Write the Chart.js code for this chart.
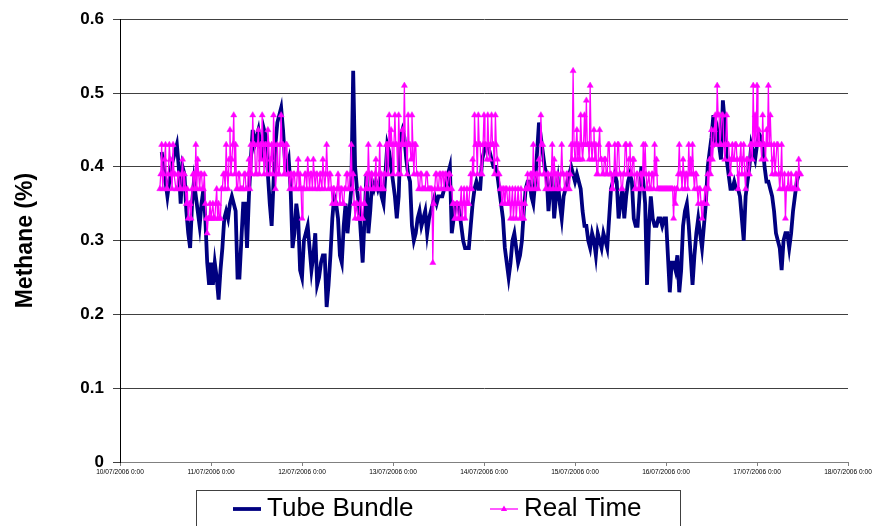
<!DOCTYPE html>
<html>
<head>
<meta charset="utf-8">
<title>Methane</title>
<script src="https://cdn.jsdelivr.net/npm/chart.js@4.4.0/dist/chart.umd.min.js"></script>
<style>
  html, body { margin: 0; padding: 0; background: #fff; }
  canvas { display: block; }
</style>
</head>
<body>
<canvas id="methaneChart" width="872" height="526"></canvas>
<script>
"use strict";
// x axis runs in hours from 10/07/2006 0:00
const dateLabels = [
    '10/07/2006 0:00', '11/07/2006 0:00', '12/07/2006 0:00', '13/07/2006 0:00', '14/07/2006 0:00',
    '15/07/2006 0:00', '16/07/2006 0:00', '17/07/2006 0:00', '18/07/2006 0:00'
];
const seriesNames = ['Tube Bundle', 'Real Time'];

// tube bundle: half-hourly readings starting 10/07 11:00, one row per 4 hours
const tubeStartHour = 11;
const tubeStepHours = 0.5;
const tubeBundle = [
    0.42, 0.40, 0.38, 0.36, 0.38, 0.40, 0.41, 0.42,
    0.43, 0.40, 0.35, 0.40, 0.39, 0.34, 0.31, 0.29,
    0.35, 0.38, 0.36, 0.34, 0.32, 0.35, 0.37, 0.33,
    0.27, 0.24, 0.27, 0.24, 0.27, 0.25, 0.22, 0.26,
    0.29, 0.33, 0.34, 0.33, 0.35, 0.36, 0.35, 0.34,
    0.25, 0.25, 0.30, 0.35, 0.35, 0.29, 0.36, 0.41,
    0.45, 0.43, 0.44, 0.45, 0.43, 0.41, 0.45, 0.44,
    0.39, 0.35, 0.32, 0.38, 0.43, 0.46, 0.47, 0.48,
    0.45, 0.41, 0.40, 0.41, 0.37, 0.29, 0.31, 0.35,
    0.33, 0.26, 0.25, 0.30, 0.31, 0.32, 0.29, 0.26,
    0.28, 0.31, 0.24, 0.25, 0.27, 0.28, 0.28, 0.21,
    0.24, 0.28, 0.33, 0.36, 0.35, 0.33, 0.28, 0.27,
    0.32, 0.35, 0.31, 0.34, 0.37, 0.53, 0.40, 0.37,
    0.35, 0.31, 0.27, 0.33, 0.39, 0.31, 0.34, 0.38,
    0.37, 0.38, 0.37, 0.38, 0.36, 0.35, 0.39, 0.43,
    0.42, 0.40, 0.38, 0.36, 0.33, 0.36, 0.44, 0.45,
    0.44, 0.41, 0.39, 0.38, 0.32, 0.30, 0.31, 0.33,
    0.34, 0.32, 0.33, 0.34, 0.31, 0.33, 0.34, 0.35,
    0.36, 0.35, 0.36, 0.36, 0.36, 0.37, 0.37, 0.39,
    0.40, 0.31, 0.33, 0.35, 0.35, 0.34, 0.32, 0.30,
    0.29, 0.29, 0.29, 0.32, 0.35, 0.37, 0.38, 0.37,
    0.37, 0.41, 0.42, 0.43, 0.43, 0.42, 0.41, 0.40,
    0.40, 0.39, 0.37, 0.35, 0.33, 0.29, 0.27, 0.25,
    0.27, 0.30, 0.31, 0.29, 0.27, 0.28, 0.30, 0.34,
    0.37, 0.38, 0.38, 0.36, 0.35, 0.38, 0.42, 0.46,
    0.44, 0.42, 0.40, 0.39, 0.34, 0.37, 0.39, 0.33,
    0.36, 0.38, 0.35, 0.33, 0.36, 0.37, 0.38, 0.39,
    0.40, 0.39, 0.38, 0.39, 0.38, 0.37, 0.34, 0.32,
    0.32, 0.30, 0.29, 0.31, 0.30, 0.28, 0.31, 0.30,
    0.29, 0.31, 0.30, 0.29, 0.33, 0.37, 0.38, 0.39,
    0.38, 0.33, 0.35, 0.37, 0.33, 0.36, 0.38, 0.39,
    0.38, 0.33, 0.32, 0.32, 0.36, 0.40, 0.38, 0.35,
    0.24, 0.32, 0.36, 0.33, 0.32, 0.32, 0.33, 0.33,
    0.32, 0.33, 0.33, 0.28, 0.23, 0.27, 0.27, 0.26,
    0.28, 0.23, 0.26, 0.32, 0.34, 0.35, 0.32, 0.28,
    0.24, 0.28, 0.31, 0.33, 0.31, 0.29, 0.32, 0.35,
    0.40, 0.42, 0.44, 0.47, 0.44, 0.45, 0.43, 0.41,
    0.49, 0.46, 0.41, 0.39, 0.37, 0.37, 0.38, 0.37,
    0.37, 0.36, 0.33, 0.30, 0.36, 0.38, 0.40, 0.43,
    0.42, 0.41, 0.43, 0.445, 0.44, 0.43, 0.40, 0.38,
    0.38, 0.37, 0.36, 0.34, 0.31, 0.30, 0.29, 0.26,
    0.30, 0.31, 0.31, 0.29, 0.31, 0.34, 0.36, 0.38,
    0.39
];

// real time monitor: 15-minute readings starting 10/07 10:30, one row per 4 hours
const realStartHour = 10.5;
const realStepHours = 0.25;
const realTime = [
    0.37, 0.39, 0.43, 0.37, 0.39, 0.41, 0.43, 0.37, 0.37, 0.39, 0.43, 0.41, 0.39, 0.37, 0.43, 0.39,
    0.39, 0.37, 0.37, 0.39, 0.39, 0.37, 0.37, 0.39, 0.41, 0.37, 0.39, 0.37, 0.35, 0.37, 0.33, 0.35,
    0.35, 0.33, 0.37, 0.39, 0.39, 0.37, 0.43, 0.37, 0.41, 0.39, 0.37, 0.39, 0.39, 0.37, 0.37, 0.39,
    0.35, 0.33, 0.31, 0.33, 0.33, 0.35, 0.33, 0.33, 0.35, 0.33, 0.33, 0.35, 0.37, 0.33, 0.35, 0.33,
    0.33, 0.37, 0.37, 0.39, 0.39, 0.37, 0.43, 0.39, 0.37, 0.41, 0.45, 0.39, 0.41, 0.43, 0.47, 0.39,
    0.43, 0.37, 0.37, 0.39, 0.39, 0.37, 0.37, 0.37, 0.37, 0.39, 0.39, 0.37, 0.37, 0.39, 0.41, 0.37,
    0.43, 0.39, 0.47, 0.43, 0.43, 0.39, 0.39, 0.43, 0.45, 0.39, 0.43, 0.41, 0.47, 0.43, 0.39, 0.43,
    0.43, 0.39, 0.45, 0.43, 0.39, 0.41, 0.43, 0.39, 0.47, 0.43, 0.37, 0.39, 0.43, 0.39, 0.39, 0.43,
    0.47, 0.43, 0.43, 0.39, 0.39, 0.43, 0.43, 0.39, 0.39, 0.37, 0.39, 0.39, 0.37, 0.39, 0.39, 0.37,
    0.37, 0.39, 0.41, 0.37, 0.39, 0.37, 0.33, 0.37, 0.37, 0.39, 0.39, 0.37, 0.41, 0.39, 0.37, 0.39,
    0.39, 0.37, 0.41, 0.39, 0.37, 0.39, 0.39, 0.37, 0.37, 0.39, 0.39, 0.37, 0.41, 0.39, 0.37, 0.39,
    0.43, 0.39, 0.37, 0.39, 0.39, 0.37, 0.35, 0.37, 0.37, 0.35, 0.35, 0.37, 0.39, 0.37, 0.35, 0.37,
    0.37, 0.35, 0.35, 0.37, 0.37, 0.39, 0.39, 0.37, 0.37, 0.39, 0.43, 0.37, 0.39, 0.35, 0.33, 0.35,
    0.35, 0.33, 0.33, 0.35, 0.37, 0.33, 0.33, 0.35, 0.35, 0.37, 0.39, 0.37, 0.43, 0.39, 0.37, 0.39,
    0.39, 0.37, 0.37, 0.39, 0.41, 0.37, 0.37, 0.39, 0.43, 0.37, 0.39, 0.37, 0.37, 0.39, 0.39, 0.43,
    0.43, 0.39, 0.47, 0.43, 0.45, 0.43, 0.39, 0.43, 0.47, 0.43, 0.43, 0.39, 0.47, 0.43, 0.39, 0.43,
    0.45, 0.43, 0.51, 0.43, 0.43, 0.39, 0.47, 0.43, 0.43, 0.41, 0.47, 0.43, 0.39, 0.43, 0.43, 0.39,
    0.39, 0.37, 0.37, 0.39, 0.39, 0.37, 0.37, 0.37, 0.37, 0.39, 0.39, 0.37, 0.37, 0.37, 0.37, 0.37,
    0.27, 0.35, 0.37, 0.39, 0.39, 0.37, 0.37, 0.39, 0.39, 0.37, 0.39, 0.39, 0.37, 0.39, 0.39, 0.37,
    0.37, 0.39, 0.39, 0.37, 0.37, 0.35, 0.35, 0.33, 0.33, 0.35, 0.35, 0.33, 0.33, 0.35, 0.37, 0.33,
    0.35, 0.37, 0.33, 0.35, 0.37, 0.35, 0.35, 0.37, 0.39, 0.37, 0.41, 0.39, 0.47, 0.43, 0.43, 0.39,
    0.47, 0.43, 0.43, 0.39, 0.39, 0.43, 0.47, 0.43, 0.43, 0.41, 0.47, 0.43, 0.41, 0.43, 0.47, 0.43,
    0.43, 0.39, 0.47, 0.43, 0.41, 0.39, 0.39, 0.37, 0.37, 0.35, 0.37, 0.37, 0.35, 0.37, 0.37, 0.35,
    0.35, 0.37, 0.33, 0.35, 0.37, 0.33, 0.35, 0.37, 0.33, 0.35, 0.37, 0.35, 0.33, 0.37, 0.35, 0.33,
    0.33, 0.35, 0.37, 0.37, 0.39, 0.37, 0.37, 0.39, 0.39, 0.37, 0.43, 0.39, 0.37, 0.39, 0.39, 0.37,
    0.41, 0.39, 0.47, 0.43, 0.43, 0.39, 0.39, 0.37, 0.37, 0.39, 0.39, 0.37, 0.37, 0.39, 0.43, 0.37,
    0.41, 0.39, 0.37, 0.39, 0.39, 0.37, 0.37, 0.39, 0.43, 0.39, 0.39, 0.37, 0.37, 0.39, 0.39, 0.37,
    0.37, 0.39, 0.43, 0.41, 0.53, 0.43, 0.41, 0.43, 0.45, 0.41, 0.43, 0.41, 0.47, 0.43, 0.41, 0.43,
    0.47, 0.43, 0.49, 0.43, 0.43, 0.41, 0.51, 0.43, 0.41, 0.43, 0.45, 0.41, 0.43, 0.39, 0.39, 0.43,
    0.45, 0.41, 0.41, 0.39, 0.39, 0.41, 0.41, 0.39, 0.39, 0.43, 0.43, 0.39, 0.39, 0.37, 0.37, 0.39,
    0.43, 0.39, 0.39, 0.43, 0.43, 0.39, 0.39, 0.37, 0.37, 0.39, 0.39, 0.43, 0.43, 0.39, 0.39, 0.41,
    0.43, 0.39, 0.39, 0.41, 0.41, 0.37, 0.37, 0.39, 0.39, 0.37, 0.37, 0.39, 0.39, 0.37, 0.43, 0.39,
    0.43, 0.39, 0.37, 0.37, 0.39, 0.37, 0.37, 0.39, 0.39, 0.37, 0.43, 0.39, 0.41, 0.37, 0.37, 0.37,
    0.37, 0.37, 0.37, 0.37, 0.37, 0.37, 0.37, 0.37, 0.37, 0.37, 0.37, 0.37, 0.37, 0.37, 0.33, 0.37,
    0.35, 0.37, 0.37, 0.39, 0.43, 0.39, 0.39, 0.37, 0.41, 0.39, 0.37, 0.39, 0.39, 0.37, 0.43, 0.39,
    0.41, 0.39, 0.43, 0.39, 0.37, 0.39, 0.39, 0.37, 0.35, 0.37, 0.37, 0.35, 0.33, 0.35, 0.35, 0.37,
    0.37, 0.35, 0.39, 0.37, 0.41, 0.39, 0.45, 0.41, 0.43, 0.45, 0.47, 0.43, 0.51, 0.47, 0.47, 0.43,
    0.43, 0.47, 0.47, 0.43, 0.41, 0.43, 0.47, 0.43, 0.43, 0.41, 0.39, 0.41, 0.43, 0.41, 0.41, 0.43,
    0.43, 0.41, 0.37, 0.39, 0.41, 0.43, 0.39, 0.41, 0.43, 0.39, 0.37, 0.41, 0.41, 0.39, 0.39, 0.43,
    0.43, 0.41, 0.51, 0.43, 0.47, 0.43, 0.51, 0.43, 0.45, 0.43, 0.43, 0.41, 0.47, 0.43, 0.43, 0.41,
    0.45, 0.43, 0.51, 0.43, 0.47, 0.43, 0.39, 0.41, 0.43, 0.39, 0.39, 0.43, 0.43, 0.39, 0.37, 0.39,
    0.43, 0.37, 0.37, 0.39, 0.33, 0.37, 0.37, 0.39, 0.37, 0.37, 0.39, 0.37, 0.37, 0.37, 0.37, 0.39,
    0.39, 0.37, 0.41, 0.39, 0.39
];

const FONT = '"Liberation Sans", Arial, sans-serif';

function toPoints(values, start, step) {
    return values.map((v, i) => ({ x: start + i * step, y: v }));
}

// boxed legend under the plot, drawn from the dataset styles
const boxedLegend = {
    id: 'boxedLegend',
    afterDraw(chart, args, opts) {
        const ctx = chart.ctx;
        ctx.save();
        ctx.strokeStyle = opts.borderColor;
        ctx.lineWidth = 1;
        ctx.strokeRect(opts.left + 0.5, opts.top + 0.5, opts.width, opts.height);
        ctx.font = opts.font;
        ctx.textBaseline = 'middle';
        ctx.textAlign = 'left';
        const y = opts.top + opts.rowOffset;
        chart.data.datasets.forEach((ds, i) => {
            const item = opts.items[i];
            ctx.strokeStyle = ds.borderColor;
            ctx.lineWidth = ds.borderWidth;
            ctx.beginPath();
            ctx.moveTo(item.lineX, y);
            ctx.lineTo(item.lineX + opts.sampleLength, y);
            ctx.stroke();
            if (ds.pointRadius > 0) {
                const cx = item.lineX + opts.sampleLength / 2;
                const r = ds.pointRadius;
                ctx.fillStyle = ds.pointBackgroundColor;
                ctx.beginPath();
                ctx.moveTo(cx, y - r);
                ctx.lineTo(cx + r * 0.9, y + r * 0.6);
                ctx.lineTo(cx - r * 0.9, y + r * 0.6);
                ctx.closePath();
                ctx.fill();
            }
            ctx.fillStyle = '#000';
            ctx.fillText(ds.label, item.textX, y);
        });
        ctx.restore();
    }
};

const ctx = document.getElementById('methaneChart');
new Chart(ctx, {
    type: 'line',
    data: {
        datasets: [
            {
                label: seriesNames[0],
                data: toPoints(tubeBundle, tubeStartHour, tubeStepHours),
                borderColor: '#000080',
                borderWidth: 3.8,
                pointRadius: 0,
                tension: 0,
                order: 1
            },
            {
                label: seriesNames[1],
                data: toPoints(realTime, realStartHour, realStepHours),
                borderColor: '#ff00ff',
                borderWidth: 1.3,
                pointStyle: 'triangle',
                pointRadius: 3.5,
                pointBackgroundColor: '#ff00ff',
                pointBorderColor: '#ff00ff',
                pointBorderWidth: 0.5,
                tension: 0,
                order: 0
            }
        ]
    },
    options: {
        responsive: false,
        animation: false,
        layout: {
            padding: { top: 16, right: 24, bottom: 44, left: 0 }
        },
        plugins: {
            legend: { display: false },
            tooltip: { enabled: false },
            boxedLegend: {
                left: 196,
                top: 490,
                width: 484,
                height: 45,
                rowOffset: 19,
                borderColor: '#404040',
                font: '26px ' + FONT,
                sampleLength: 28,
                items: [
                    { lineX: 233, textX: 267 },
                    { lineX: 490, textX: 524 }
                ]
            }
        },
        scales: {
            x: {
                type: 'linear',
                min: 0,
                max: 192,
                afterBuildTicks(scale) {
                    scale.ticks = dateLabels.map((_, i) => ({ value: i * 24 }));
                },
                afterFit(scale) {
                    scale.height = 20;
                    scale.paddingLeft = 0;
                    scale.paddingRight = 0;
                },
                ticks: {
                    autoSkip: false,
                    maxRotation: 0,
                    minRotation: 0,
                    padding: 2,
                    color: '#000',
                    font: { family: FONT, size: 6.6 },
                    callback: (value) => dateLabels[Math.round(value / 24)]
                },
                grid: {
                    drawOnChartArea: false,
                    drawTicks: true,
                    tickLength: 4,
                    color: '#808080'
                },
                border: { color: '#808080', width: 1 }
            },
            y: {
                min: 0,
                max: 0.6,
                afterFit(scale) {
                    scale.width = 120;
                },
                ticks: {
                    stepSize: 0.1,
                    padding: 9,
                    color: '#000',
                    font: { family: FONT, size: 17, weight: 'bold' },
                    callback: (value) => (value === 0 ? '0' : value.toFixed(1))
                },
                grid: {
                    color: '#404040',
                    lineWidth: 1,
                    tickLength: 7
                },
                border: { color: '#000', width: 1 },
                title: {
                    display: true,
                    text: 'Methane (%)',
                    color: '#000',
                    font: { family: FONT, size: 23, weight: 'bold' },
                    padding: { top: 12, bottom: 0 }
                }
            }
        }
    },
    plugins: [boxedLegend]
});
</script>
</body>
</html>
